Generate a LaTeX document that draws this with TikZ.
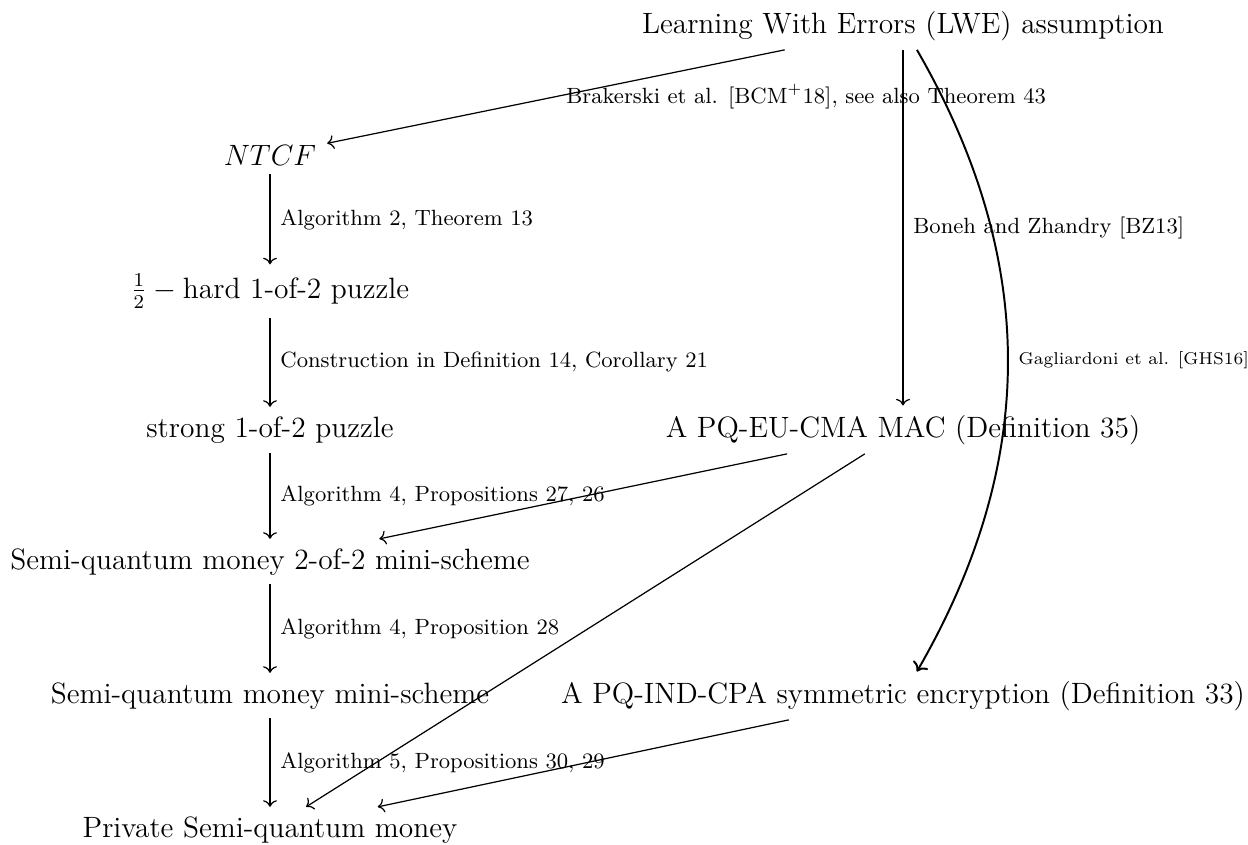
\documentclass[tikz,border=0pt]{standalone}
\usetikzlibrary{arrows.meta}
\begin{document}
\begin{tikzpicture}[x=0.4082pt,y=-0.4082pt,
  obj/.style={font=\large, inner xsep=1ex, inner ysep=0.85ex, anchor=base},
  lab/.style={font=\small, inner sep=4pt, right},
  arr/.style={->, line width=0.5pt},
  thickarr/.style={->, line width=0.8pt}
]
\useasboundingbox (0,0) rectangle (1248,844);
\node[obj] (lwe)   at (903,33)  {Learning With Errors (LWE) assumption};
\node[obj] (ntcf)  at (270,165) {$NTCF$};
\node[obj] (half)  at (270,298) {$\frac{1}{2}\mkern4mu-\mkern4mu$hard 1-of-2 puzzle};
\node[obj] (strong) at (270,437) {strong 1-of-2 puzzle};
\node[obj] (mac)   at (903,437) {A PQ-EU-CMA MAC (Definition 35)};
\node[obj] (two)   at (270,569) {Semi-quantum money 2-of-2 mini-scheme};
\node[obj] (mini)  at (270,703) {Semi-quantum money mini-scheme};
\node[obj] (pqind) at (903,703) {A PQ-IND-CPA symmetric encryption (Definition 33)};
\node[obj] (priv)  at (270,837) {Private Semi-quantum money};

\draw[arr] (lwe) -- node[lab] {Brakerski et al. [BCM$^+$18], see also Theorem 43} (ntcf);
\draw[arr] (lwe) -- node[lab] {Boneh and Zhandry [BZ13]} (mac);
\draw[thickarr] (lwe) to[bend left=30] node[lab, font=\scriptsize] {Gagliardoni et al. [GHS16]} (pqind);
\draw[arr] (ntcf) -- node[lab] {Algorithm 2, Theorem 13} (half);
\draw[arr] (half) -- node[lab] {Construction in Definition 14, Corollary 21} (strong);
\draw[arr] (strong) -- node[lab] {Algorithm 4, Propositions 27, 26} (two);
\draw[arr] (mac) -- (two);
\draw[arr] (two) -- node[lab] {Algorithm 4, Proposition 28} (mini);
\draw[arr] (mini) -- node[lab] {Algorithm 5, Propositions 30, 29} (priv);
\draw[arr] (mac) -- (priv);
\draw[arr] (pqind) -- (priv);
\end{tikzpicture}
\end{document}
